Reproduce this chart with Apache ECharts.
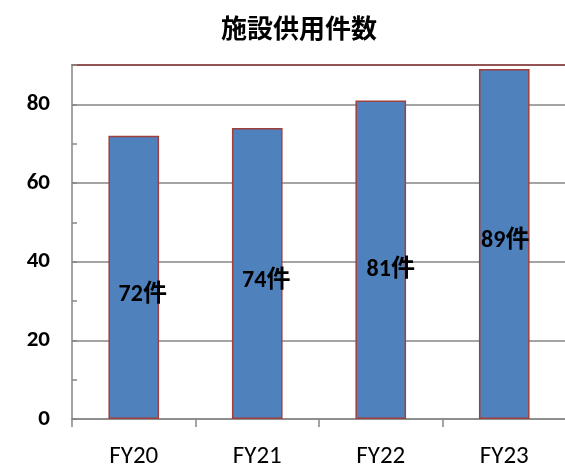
<!DOCTYPE html>
<html><head><meta charset="utf-8">
<script src="https://cdn.jsdelivr.net/npm/echarts@6/dist/echarts.min.js"></script>
<style>html,body{margin:0;padding:0;background:#fff}#c{width:565px;height:467px}</style>
</head><body><div id="c"></div>
<script>
const title = '施設供用件数';
const categories = ['FY20', 'FY21', 'FY22', 'FY23'];
const values = [72, 74, 81, 89];
const unit = '件';
const labelOffsets = [[9, 18], [9, 8], [10, 10], [1, -3]];

const chart = echarts.init(document.getElementById('c'));
const font = 'Carlito, "Liberation Sans Narrow", "Noto Sans CJK JP", sans-serif';
chart.setOption({
  animation: false,
  title: {text: title, left: 216, top: 10,
    textStyle: {fontSize: 26, fontWeight: 'bold', color: '#000', fontFamily: '"Noto Sans CJK JP", sans-serif'}},
  grid: {left: 72, right: -1, top: 65, bottom: 48, outerBoundsMode: 'none', containLabel: false},
  xAxis: [{
    type: 'category', data: categories, position: 'bottom',
    axisLine: {lineStyle: {color: '#868686', width: 1.5}},
    axisTick: {show: true, length: 8, lineStyle: {color: '#868686', width: 1.5}},
    axisLabel: {fontSize: 25, color: '#000', margin: 25, fontFamily: font}
  }, {
    type: 'category', data: categories, position: 'top',
    axisLine: {lineStyle: {color: '#8E3A3A', width: 1.5}},
    axisTick: {show: false}, axisLabel: {show: false}
  }],
  yAxis: {
    type: 'value', min: 0, max: 90, interval: 20,
    axisLine: {show: true, lineStyle: {color: '#868686', width: 1.5}},
    axisTick: {show: true, inside: true, length: 5, lineStyle: {color: '#868686', width: 1.5}},
    minorTick: {show: true, splitNumber: 2, length: 5, lineStyle: {color: '#868686', width: 1.5}},
    splitLine: {show: true, lineStyle: {color: '#868686', width: 1.5}},
    axisLabel: {fontSize: 23, fontWeight: 'bold', color: '#000', margin: 22, fontFamily: font,
      formatter: v => v > 80 ? '' : v}
  },
  series: [{
    type: 'bar', barWidth: '41%', xAxisIndex: 0,
    itemStyle: {color: '#4F81BD', borderColor: '#A0403E', borderWidth: 1.5},
    data: values.map((v, i) => ({value: v, label: {offset: labelOffsets[i]}})),
    label: {show: true, position: 'inside', formatter: p => p.value + unit,
      fontSize: 24, fontWeight: 'bold', color: '#000', fontFamily: font}
  }]
});
</script></body></html>
